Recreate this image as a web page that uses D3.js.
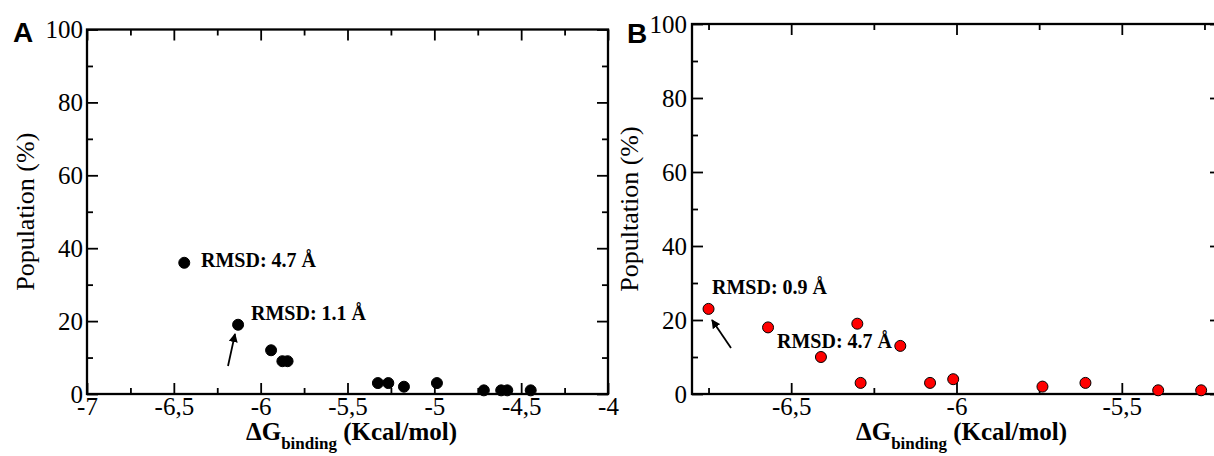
<!DOCTYPE html>
<html>
<head>
<meta charset="utf-8">
<script src="https://cdn.jsdelivr.net/npm/d3@7"></script>
<style>
  body { margin: 0; background: #fff; }
  svg { display: block; }
</style>
</head>
<body>
<script>
// panel A: docking poses (black)
var dgA = [-6.44, -6.13, -5.94, -5.875, -5.845, -5.325, -5.265, -5.175, -4.985, -4.715, -4.615, -4.58, -4.445],
  popA = [36, 19, 12, 9, 9, 3, 3, 2, 3, 1, 1, 1, 1],
  // panel B: docking poses (red)
  dgB = [-6.75, -6.57, -6.41, -6.3, -6.29, -6.17, -6.08, -6.01, -5.74, -5.61, -5.39, -5.26],
  popB = [23, 18, 10, 19, 3, 13, 3, 4, 2, 3, 1, 1],
  xTicksA = [-7, -6.5, -6, -5.5, -5, -4.5, -4],
  xMinorA = [-6.75, -6.25, -5.75, -5.25, -4.75, -4.25],
  xTicksB = [-6.5, -6, -5.5],
  xMinorB = [-6.75, -6.25, -5.75, -5.25],
  yTicks = [0, 20, 40, 60, 80, 100],
  yMinor = [10, 30, 50, 70, 90],
  notesA = [{text: 'RMSD: 4.7 Å', x: 201, y: 267}, {text: 'RMSD: 1.1 Å', x: 251, y: 320}],
  notesB = [{text: 'RMSD: 0.9 Å', x: 712, y: 294}, {text: 'RMSD: 4.7 Å', x: 777, y: 348}];

var svg = d3.select('body').append('svg').attr('width', 1214).attr('height', 456),
  serif = '"Liberation Serif", "Times New Roman", Times, serif',
  fmt = function(d) { return String(d).replace('.', ','); };

svg.append('defs').append('marker').attr('id', 'arrow')
  .attr('viewBox', '0 0 10 10').attr('refX', 9).attr('refY', 5)
  .attr('markerWidth', 5).attr('markerHeight', 5).attr('orient', 'auto-start-reverse')
  .append('path').attr('d', 'M0,0L10,5L0,10z').attr('fill', '#000');

function drawPanel(p) {
  var x = d3.scaleLinear().domain(p.xDomain).range([p.left, p.right]),
    y = d3.scaleLinear().domain([0, 100]).range([p.bottom, p.top]),
    g = svg.append('g'),
    tickStyle = function(sel) {
      sel.attr('font-family', serif);
      sel.select('.domain').remove();
      sel.selectAll('.tick line').attr('stroke', '#000').attr('stroke-width', 1.8);
      sel.selectAll('.tick text').attr('fill', '#000').attr('font-family', serif).attr('font-size', 25);
    };

  // minor ticks first
  g.append('g').attr('transform', 'translate(0,' + p.bottom + ')')
    .call(d3.axisBottom(x).tickValues(p.xMinor).tickSize(-6).tickFormat(''))
    .call(tickStyle);
  g.append('g').attr('transform', 'translate(0,' + p.top + ')')
    .call(d3.axisTop(x).tickValues(p.xMinor).tickSize(-6).tickFormat(''))
    .call(tickStyle);
  g.append('g').attr('transform', 'translate(' + p.left + ',0)')
    .call(d3.axisLeft(y).tickValues(yMinor).tickSize(-6).tickFormat(''))
    .call(tickStyle);
  g.append('g').attr('transform', 'translate(' + p.right + ',0)')
    .call(d3.axisRight(y).tickValues(yMinor).tickSize(-6).tickFormat(''))
    .call(tickStyle);

  // major ticks
  g.append('g').attr('transform', 'translate(0,' + p.bottom + ')')
    .call(d3.axisBottom(x).tickValues(p.xTicks).tickSize(-11).tickPadding(3).tickFormat(fmt))
    .call(tickStyle);
  g.append('g').attr('transform', 'translate(0,' + p.top + ')')
    .call(d3.axisTop(x).tickValues(p.xTicks).tickSize(-11).tickFormat(''))
    .call(tickStyle);
  g.append('g').attr('transform', 'translate(' + p.left + ',0)')
    .call(d3.axisLeft(y).tickValues(yTicks).tickSize(-11).tickPadding(p.yPad).tickFormat(d3.format('d')))
    .call(tickStyle);
  g.append('g').attr('transform', 'translate(' + p.right + ',0)')
    .call(d3.axisRight(y).tickValues(yTicks).tickSize(-11).tickFormat(''))
    .call(tickStyle);

  // frame
  g.append('rect').attr('x', p.left).attr('y', p.top)
    .attr('width', p.right - p.left).attr('height', p.bottom - p.top)
    .attr('fill', 'none').attr('stroke', '#000').attr('stroke-width', 2.3);

  // annotations
  g.selectAll('text.note').data(p.notes).enter().append('text')
    .attr('class', 'note').attr('x', function(d) { return d.x; }).attr('y', function(d) { return d.y; })
    .attr('font-family', serif).attr('font-weight', 'bold').attr('font-size', 20)
    .text(function(d) { return d.text; });

  g.append('line').attr('x1', p.arrow[0]).attr('y1', p.arrow[1])
    .attr('x2', p.arrow[2]).attr('y2', p.arrow[3])
    .attr('stroke', '#000').attr('stroke-width', 1.8).attr('marker-end', 'url(#arrow)');

  // points
  g.selectAll('circle').data(p.xs).enter().append('circle')
    .attr('cx', function(d) { return x(d); })
    .attr('cy', function(d, i) { return y(p.ys[i]); })
    .attr('r', 5.5)
    .attr('fill', p.color).attr('stroke', '#000').attr('stroke-width', 1);

  // labels
  g.append('text').attr('transform', 'translate(' + p.yLabelX + ',' + ((p.top + p.bottom) / 2) + ') rotate(-90)')
    .attr('text-anchor', 'middle').attr('font-family', serif).attr('font-size', 26)
    .text(p.yLabel);

  var xl = g.append('text').attr('x', (p.left + p.right) / 2 + p.xLabelShift).attr('y', 440)
    .attr('text-anchor', 'middle').attr('font-family', serif).attr('font-weight', 'bold').attr('font-size', 25);
  xl.append('tspan').text('ΔG');
  xl.append('tspan').attr('font-size', 17).attr('dy', 9).text('binding');
  xl.append('tspan').attr('dy', -9).text(' (Kcal/mol)');

  svg.append('text').attr('x', p.letterX).attr('y', p.letterY)
    .attr('font-family', '"Liberation Sans", Arial, sans-serif').attr('font-weight', 'bold')
    .attr('font-size', 28).text(p.letter);
}

drawPanel({
  letter: 'A', letterX: 13, letterY: 42,
  left: 87, right: 608, top: 29.5, bottom: 394,
  xDomain: [-7, -4], xTicks: xTicksA, xMinor: xMinorA,
  xs: dgA, ys: popA, color: '#000', notes: notesA,
  arrow: [228, 366, 235, 334],
  yPad: 4, yLabel: 'Population (%)', yLabelX: 34, xLabelShift: 4
});

drawPanel({
  letter: 'B', letterX: 627, letterY: 43,
  left: 692, right: 1221, top: 24, bottom: 394,
  xDomain: [-6.8, -5.2], xTicks: xTicksB, xMinor: xMinorB,
  xs: dgB, ys: popB, color: '#ff0000', notes: notesB,
  arrow: [731, 348, 712, 320],
  yPad: 5, yLabel: 'Popultation (%)', yLabelX: 638, xLabelShift: 5
});
</script>
</body>
</html>
